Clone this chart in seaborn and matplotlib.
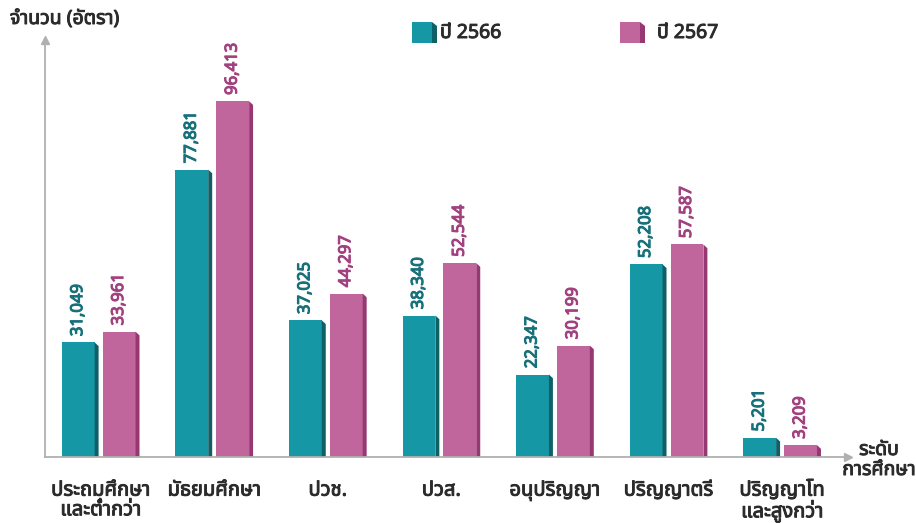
import matplotlib
matplotlib.use("Agg")
import matplotlib.pyplot as plt
import matplotlib.patheffects as pe
import seaborn as sns
import pandas as pd
from matplotlib.patches import Polygon, Rectangle

categories = ["ประถมศึกษา\nและต่ำกว่า", "มัธยมศึกษา", "ปวช.", "ปวส.", "อนุปริญญา", "ปริญญาตรี", "ปริญญาโท\nและสูงกว่า"]
series_names = ["ปี 2566", "ปี 2567"]
values_2566 = [31049, 77881, 37025, 38340, 22347, 52208, 5201]
values_2567 = [33961, 96413, 44297, 52544, 30199, 57587, 3209]

colors = ["#1597a5", "#c0669c"]
side_colors = ["#0f5f67", "#983873"]
label_colors = ["#17707a", "#a2417f"]
text_color = "#2b2b2b"

sns.set_theme(style="white")
plt.rcParams['font.family'] = ['Noto Sans', 'Noto Sans Thai', 'Loma', 'Garuda', 'DejaVu Sans']

def bold(c, w=0.7):
    return [pe.withStroke(linewidth=w, foreground=c)]

df = pd.DataFrame({
    "cat": categories * 2,
    "series": [series_names[0]] * len(categories) + [series_names[1]] * len(categories),
    "value": values_2566 + values_2567,
})

fig = plt.figure(figsize=(9.16, 5.23), dpi=100)
ax = fig.add_axes([45/916, 1-457/523, 803/916, 417/523])
sns.barplot(data=df, x="cat", y="value", hue="series", palette=colors,
            width=0.72, gap=0.1, ax=ax, legend=False, saturation=1)

ax.set_xlim(-0.49, 6.58)
ax.set_ylim(0, 113000)

d = 0.035
dy = 1000
for i, p in enumerate(ax.patches):
    s = i // len(categories)
    x0 = p.get_x(); w = p.get_width(); h = p.get_height()
    p.set_width(w - d)
    p.set_linewidth(0)
    side = Polygon([(x0 + w - d, 0), (x0 + w, 0), (x0 + w, h - dy), (x0 + w - d, h)],
                   closed=True, facecolor=side_colors[s], edgecolor="none")
    ax.add_patch(side)
    ax.text(x0 + w/2 - d/2, h + 1700, f"{int(h):,}", rotation=90, ha="center", va="bottom",
            color=label_colors[s], fontsize=12, fontweight="bold",
            path_effects=bold(label_colors[s], 0.8))

for sp in ["top", "right"]:
    ax.spines[sp].set_visible(False)
for sp in ["left", "bottom"]:
    ax.spines[sp].set_color("#b0b0b0")
    ax.spines[sp].set_linewidth(1.3)
ax.plot(0, 1, marker="^", color="#b0b0b0", markersize=6, transform=ax.transAxes, clip_on=False)
ax.plot(1, 0, marker=">", color="#b0b0b0", markersize=6, transform=ax.transAxes, clip_on=False)

ax.set_yticks([])
ax.set_xlabel("")
ax.set_ylabel("")
ax.tick_params(axis="x", length=0, pad=17, labelsize=14.5, labelcolor=text_color)
for t in ax.get_xticklabels():
    t.set_fontweight("bold")
    t.set_linespacing(0.98)
    t.set_path_effects(bold(text_color))

fig.text(10/916, 1-19/523, "จำนวน (อัตรา)", ha="left", va="center", fontsize=14,
         fontweight="bold", color=text_color, path_effects=bold(text_color))
fig.text(879/916, 1-460/523, "ระดับ\nการศึกษา", ha="center", va="center", fontsize=14,
         fontweight="bold", color=text_color, linespacing=1.0, path_effects=bold(text_color))

# legend
for j, (lx, tx) in enumerate([(412, 440), (620, 657)]):
    fig.patches.append(Rectangle((lx/916, 1-43/523), 20/916, 21/523, transform=fig.transFigure,
                                 facecolor=colors[j], edgecolor="none"))
    fig.patches.append(Polygon([((lx+20)/916, 1-43/523), ((lx+25)/916, 1-43/523),
                                ((lx+25)/916, 1-26/523), ((lx+20)/916, 1-22/523)],
                               closed=True, transform=fig.transFigure,
                               facecolor=side_colors[j], edgecolor="none"))
    fig.text(tx/916, 1-33/523, series_names[j], ha="left", va="center", fontsize=14,
             fontweight="bold", color=text_color, path_effects=bold(text_color))

fig.savefig("out.png", dpi=100)
